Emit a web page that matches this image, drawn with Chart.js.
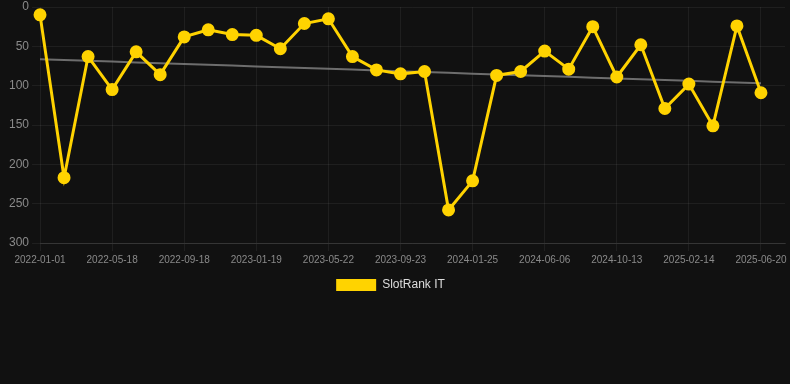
<!DOCTYPE html>
<html>
<head>
<meta charset="utf-8">
<script src="https://cdn.jsdelivr.net/npm/chart.js@4"></script>
<style>
    html, body { margin: 0; padding: 0; background: #111111; }
    #box { width: 790px; height: 384px; }
</style>
</head>
<body>
<div id="box"><canvas id="rank-chart"></canvas></div>
<script>
// date labels (one every ~45 days, only every third one is shown on the axis)
var dates = ['2022-01-01', '2022-02-15', '2022-04-02', '2022-05-18', '2022-06-28', '2022-08-08', '2022-09-18',
    '2022-10-29', '2022-12-09', '2023-01-19', '2023-03-01', '2023-04-11', '2023-05-22', '2023-07-02',
    '2023-08-13', '2023-09-23', '2023-11-03', '2023-12-14', '2024-01-25', '2024-03-09', '2024-04-23',
    '2024-06-06', '2024-07-18', '2024-08-30', '2024-10-13', '2024-11-23', '2025-01-03', '2025-02-14',
    '2025-03-27', '2025-05-09', '2025-06-20', ''];
// rank per date (lower is better, axis is reversed)
var ranks = [10, 217, 63, 105, 57, 86, 38, 29, 35, 36, 53, 21, 15, 63, 80, 85, 82, 258, 221, 87,
    82, 56, 79, 25, 89, 48, 129, 98, 151, 24, 109];
var yTicks = [0, 50, 100, 150, 200, 250, 300];
var serieName = 'SlotRank IT';

// linear trend of the ranks (least squares)
function trendLine(vals) {
    var n = vals.length, sx = 0, sy = 0, sxy = 0, sxx = 0;
    for (var i = 0; i < n; i++) {
        sx += i; sy += vals[i]; sxy += i * vals[i]; sxx += i * i;
    }
    var b = (n * sxy - sx * sy) / (n * sxx - sx * sx);
    var a = (sy - b * sx) / n;
    var out = [];
    for (var j = 0; j < n; j++) out.push(a + b * j);
    return out;
}

// small nudge so the legend sits where it does in the original
var legendShift = {
    id: 'legendShift',
    afterLayout: function (chart) {
        chart.legend.left -= 5;
        chart.legend.right -= 5;
    }
};

var ctx = document.getElementById('rank-chart');
var chart = new Chart(ctx, {
    type: 'line',
    data: {
        labels: dates,
        datasets: [{
            label: serieName,
            data: ranks,
            borderColor: '#FFD300',
            backgroundColor: '#FFD300',
            borderWidth: 3,
            pointRadius: 5,
            tension: 0
        },
        {
            label: 'trend',
            data: trendLine(ranks),
            borderColor: 'rgba(140,140,140,0.75)',
            borderWidth: 2,
            pointRadius: 0,
            tension: 0
        }]
    },
    options: {
        responsive: true,
        maintainAspectRatio: false,
        animation: false,
        layout: { autoPadding: false, padding: { left: 6, right: 5, top: 0, bottom: 83 } },
        scales: {
            x: {
                afterFit: function (scale) { scale.paddingRight = 0; },
                grid: { color: 'rgba(255,255,255,0.06)' },
                border: { color: 'rgba(255,255,255,0.1)' },
                ticks: {
                    color: '#8a8a8a',
                    font: { size: 10, family: 'Liberation Sans, Arial, sans-serif' },
                    maxRotation: 0,
                    autoSkip: true,
                    maxTicksLimit: 11
                }
            },
            y: {
                reverse: true,
                min: 0,
                max: 300,
                afterBuildTicks: function (axis) {
                    axis.ticks = yTicks.map(function (v) { return { value: v }; });
                },
                afterFit: function (scale) { scale.paddingTop = 7; },
                grid: { color: 'rgba(255,255,255,0.06)' },
                border: { display: false },
                ticks: {
                    color: '#8a8a8a',
                    font: { size: 12, family: 'Liberation Sans, Arial, sans-serif' }
                }
            }
        },
        plugins: {
            legend: {
                position: 'bottom',
                labels: {
                    color: '#dddddd',
                    boxWidth: 40,
                    boxHeight: 12,
                    font: { size: 12, family: 'Liberation Sans, Arial, sans-serif' },
                    filter: function (item) { return item.text !== 'trend'; },
                    generateLabels: function (chart) {
                        var items = Chart.defaults.plugins.legend.labels.generateLabels(chart);
                        items.forEach(function (it) { it.lineWidth = 0; });
                        return items;
                    }
                }
            },
            tooltip: { enabled: false }
        }
    },
    plugins: [legendShift]
});
</script>
</body>
</html>
